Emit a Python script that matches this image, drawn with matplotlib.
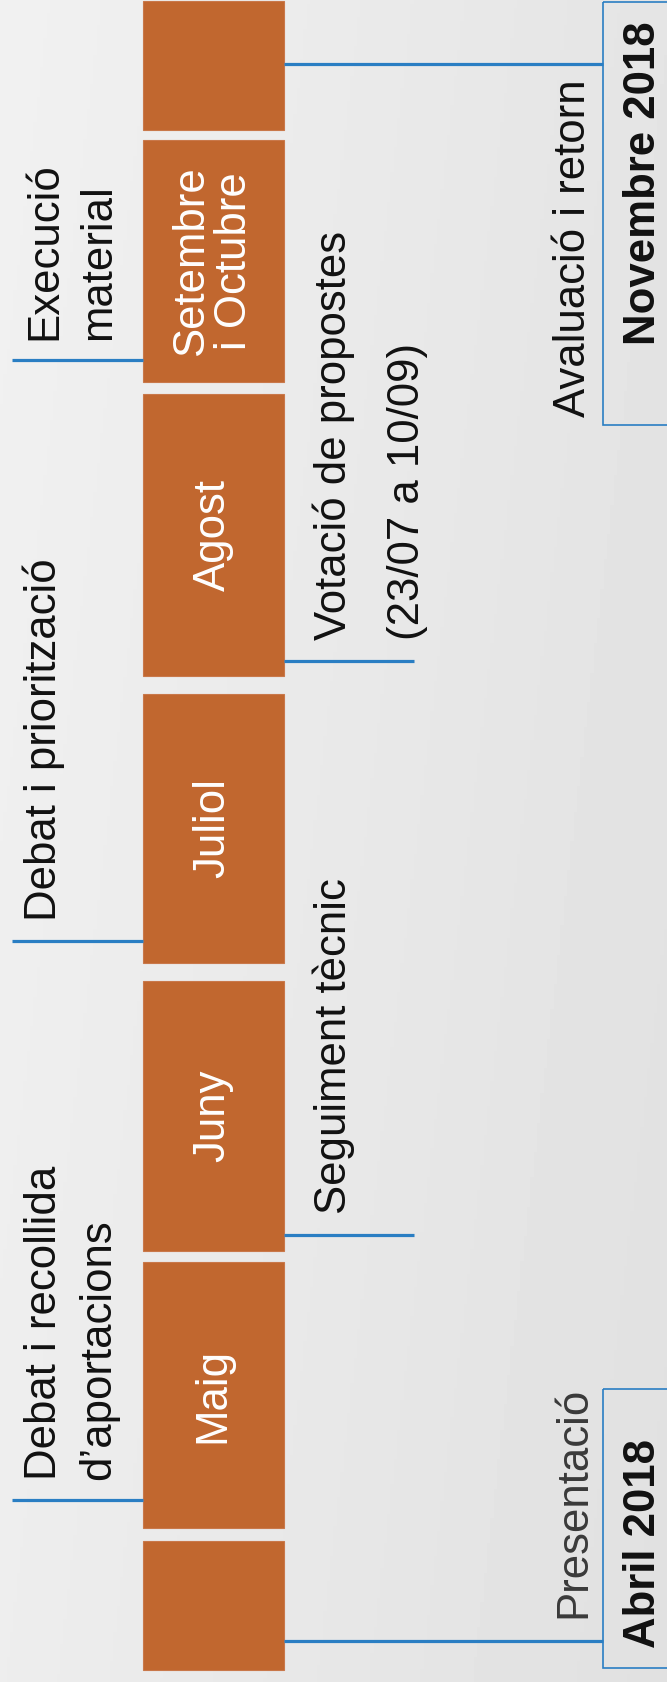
import matplotlib.pyplot as plt
import numpy as np

# Timeline blocks (positions along the timeline, read in picture units, top = 0)
months = ["", "Maig", "Juny", "Juliol", "Agost", "Setembre\ni Octubre", ""]
month_start = [1541, 1262, 981, 694, 394, 140, 1]
month_end = [1670, 1528, 1251, 963, 676, 382, 130]

# Events on the left side of the timeline
left_events = [["Debat i recollida", "d’aportacions"], ["Debat i priorització"], ["Execució", "material"]]
left_pos = [1500, 941, 360]

# Events on the right side of the timeline
right_events = [["Presentació"], ["Seguiment tècnic"], ["Votació de propostes", "(23/07 a 10/09)"], ["Avaluació i retorn"]]
right_pos = [1641, 1235, 661, 64]
right_long = [True, False, False, True]

# Milestones (start, end of box along the timeline)
milestones = ["Abril 2018", "Novembre 2018"]
milestone_start = [1389, 2]
milestone_end = [1668, 425]

W, H = 667, 1682
BAR = "#C1672F"
BLUE = "#2A7EC3"
FS = 31.5
FONT = "Liberation Sans"

fig = plt.figure(figsize=(W / 100, H / 100), dpi=100)
ax = fig.add_axes([0, 0, 1, 1])
ax.set_xlim(0, W)
ax.set_ylim(H, 0)
ax.axis("off")

# paper-like background, lighter on the left
gx = np.linspace(0, 1, 200)
gy = np.linspace(0, 1, 400)
gxx, gyy = np.meshgrid(gx, gy)
bg = 0.945 - 0.05 * gxx - 0.015 * gyy
ax.imshow(bg, cmap="gray", vmin=0, vmax=1, extent=[0, W, H, 0], aspect="auto", zorder=0)

# bars
starts = np.array(month_start)
ends = np.array(month_end)
ax.barh((starts + ends) / 2, 141, height=ends - starts, left=143, color=BAR,
        edgecolor="#C9784A", linewidth=0.8, zorder=2)
for m, s, e in zip(months, month_start, month_end):
    if m:
        ax.text(213, (s + e) / 2, m, rotation=90, ha="center", va="center", color="white",
                fontsize=FS, family=FONT, linespacing=1.05, zorder=3)

# left events
for lines, y in zip(left_events, left_pos):
    ax.plot([12, 143], [y, y], color=BLUE, lw=2.3, solid_capstyle="butt", zorder=3)
    for i, t in enumerate(lines):
        ax.text(56 + 54 * i, y - 20, t, rotation=90, rotation_mode="anchor", ha="left",
                va="baseline", fontsize=FS, family=FONT, color="#111111")

# right events
for lines, y, lng in zip(right_events, right_pos, right_long):
    x1 = 603 if lng else 414
    ax.plot([284, x1], [y, y], color=BLUE, lw=2.3, solid_capstyle="butt", zorder=3)
    if lng:
        col = "#3a3a3a" if y > 800 else "#111111"
        y0 = y - 23 if y > 800 else 417
        ax.text(585, y0, lines[0], rotation=90, rotation_mode="anchor", ha="left",
                va="baseline", fontsize=FS, family=FONT, color=col)
    else:
        for i, t in enumerate(lines):
            ax.text(346 + 73 * i, y - 21, t, rotation=90, rotation_mode="anchor", ha="left",
                    va="baseline", fontsize=FS, family=FONT, color="#111111")

# milestone boxes
for t, s, e in zip(milestones, milestone_start, milestone_end):
    ax.add_patch(plt.Rectangle((603, s), 80, e - s, fill=False, edgecolor=BLUE, lw=1.2, zorder=3))
    ax.text(655, e - 20 if s > 800 else 345, t, rotation=90, rotation_mode="anchor", ha="left",
            va="baseline", fontsize=FS, family=FONT, fontweight="bold", color="#111111")

fig.savefig("out.png", dpi=100)
